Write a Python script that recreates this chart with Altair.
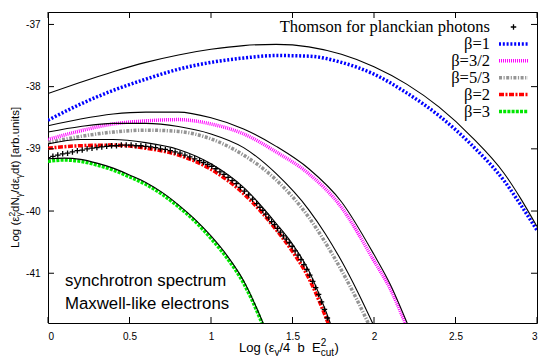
import altair as alt
import pandas as pd

# ---------------- data ----------------
X1 = [0.0, 0.2, 0.4, 0.6, 0.8, 1.0, 1.2, 1.4, 1.6, 1.8, 2.0, 2.2, 2.4, 2.6, 2.8, 2.9, 3.0]
sync_b1 = [-38.11, -37.93, -37.76, -37.61, -37.49, -37.40, -37.34, -37.32, -37.36, -37.48,
           -37.68, -37.96, -38.33, -38.81, -39.40, -39.80, -40.25]
beta_1 = [-38.54, -38.28, -38.06, -37.88, -37.72, -37.61, -37.54, -37.50, -37.51, -37.61,
          -37.80, -38.10, -38.47, -38.94, -39.52, -39.90, -40.31]

X2 = [0.0, 0.2, 0.4, 0.6, 0.8, 1.0, 1.2, 1.4, 1.6, 1.8, 2.0, 2.1, 2.2, 2.25]
sync_b32 = [-38.63, -38.52, -38.44, -38.41, -38.41, -38.50, -38.68, -38.96, -39.32, -39.85,
            -40.70, -41.18, -41.78, -42.10]
beta_32 = [-38.85, -38.71, -38.60, -38.55, -38.53, -38.60, -38.76, -39.05, -39.40, -39.94,
           -40.80, -41.25, -41.85, -42.15]

X3 = [0.0, 0.2, 0.4, 0.6, 0.8, 1.0, 1.2, 1.4, 1.6, 1.7, 1.8, 1.9, 2.0]
sync_b53 = [-38.73, -38.64, -38.59, -38.59, -38.64, -38.76, -38.98, -39.40, -39.98, -40.36,
            -40.80, -41.30, -41.85]
beta_53 = [-38.90, -38.80, -38.73, -38.70, -38.72, -38.84, -39.10, -39.50, -40.10, -40.50,
           -40.95, -41.45, -42.00]

X4 = [0.0, 0.2, 0.4, 0.6, 0.8, 1.0, 1.2, 1.4, 1.5, 1.6, 1.7, 1.8]
sync_b2 = [-38.92, -38.85, -38.85, -38.90, -39.01, -39.24, -39.62, -40.20, -40.53, -40.96,
           -41.58, -42.30]
beta_2 = [-38.99, -38.95, -38.94, -38.99, -39.10, -39.33, -39.72, -40.30, -40.65, -41.08,
          -41.68, -42.40]

X5 = [0.0, 0.1, 0.2, 0.3, 0.4, 0.5, 0.6, 0.7, 0.8, 0.9, 1.0, 1.1, 1.2, 1.3, 1.35]
sync_b3 = [-39.16, -39.15, -39.17, -39.23, -39.31, -39.42, -39.54, -39.70, -39.90, -40.13,
           -40.40, -40.72, -41.12, -41.68, -42.00]
beta_3 = [-39.20, -39.18, -39.20, -39.26, -39.34, -39.45, -39.57, -39.73, -39.93, -40.16,
          -40.44, -40.76, -41.16, -41.72, -42.05]

thomson_x = [0.00, 0.03, 0.06, 0.09, 0.12, 0.15, 0.18, 0.21, 0.24, 0.27, 0.30, 0.33, 0.36,
             0.39, 0.42, 0.45, 0.48, 0.51, 0.54, 0.57, 0.60, 0.63, 0.66, 0.69, 0.72, 0.75,
             0.78, 0.81, 0.84, 0.87, 0.90, 0.93, 0.955, 0.98, 1.005, 1.03, 1.055, 1.08,
             1.105, 1.13, 1.155, 1.18, 1.205, 1.23, 1.255, 1.28, 1.30, 1.318, 1.336, 1.354,
             1.372, 1.39, 1.408, 1.426, 1.444, 1.462, 1.48, 1.498, 1.516, 1.534, 1.552, 1.57,
             1.588, 1.606, 1.624, 1.642, 1.66, 1.678, 1.696, 1.714]
thomson_y = [-39.14, -39.12, -39.10, -39.08, -39.07, -39.05, -39.03, -39.02, -39.00, -38.99,
             -38.98, -38.97, -38.96, -38.95, -38.95, -38.94, -38.94, -38.94, -38.95, -38.95,
             -38.96, -38.97, -38.98, -39.00, -39.01, -39.03, -39.05, -39.07, -39.10, -39.13,
             -39.16, -39.19, -39.22, -39.25, -39.28, -39.32, -39.37, -39.41, -39.46, -39.51,
             -39.56, -39.62, -39.68, -39.74, -39.81, -39.88, -39.94, -39.99, -40.05, -40.11,
             -40.17, -40.22, -40.28, -40.34, -40.40, -40.45, -40.51, -40.57, -40.64, -40.71,
             -40.78, -40.86, -40.94, -41.03, -41.13, -41.23, -41.34, -41.46, -41.58, -41.72]

x_ticks = [0, 0.5, 1, 1.5, 2, 2.5, 3]
y_ticks = [-41, -40, -39, -38, -37]

legend_labels = ["Thomson for planckian photons", "\u03b2=1", "\u03b2=3/2", "\u03b2=5/3",
                 "\u03b2=2", "\u03b2=3"]

# ---------------- layout / style ----------------
W, H = 489, 311
xs = alt.Scale(domain=[0, 3], nice=False, zero=False)
ys = alt.Scale(domain=[-41.8, -36.8], nice=False, zero=False)
SANS = "Liberation Sans"
SERIF = "Liberation Serif"

x_axis = alt.Axis(values=x_ticks, format="~g", ticks=False, domain=False, grid=False,
                  labelFont=SANS, labelFontSize=10, labelColor="black", labelPadding=8,
                  title=None)
y_axis = alt.Axis(values=y_ticks, labelExpr="'-' + format(abs(datum.value), 'd')",
                  ticks=False, domain=False, grid=False, labelFont=SANS, labelFontSize=10,
                  labelColor="black", labelPadding=8, title=None)

styles = {
    "b1": dict(color="#0000ff", strokeWidth=3.5, strokeDash=[2, 1.8]),
    "b32": dict(color="#ff00ff", strokeWidth=3.5, strokeDash=[1, 1]),
    "b53": dict(color="#959595", strokeWidth=3.5, strokeDash=[3, 1.5, 1.2, 1.5]),
    "b2": dict(color="#ff0000", strokeWidth=3.5, strokeDash=[5, 1.5, 2, 1.5]),
    "b3": dict(color="#00e600", strokeWidth=3.5, strokeDash=[3, 1.2]),
}
CROSS = "M-1,0L1,0M0,-1L0,1"


def X(field):
    return alt.X(field, scale=xs, axis=x_axis, title=None)


def Y(field):
    return alt.Y(field, scale=ys, axis=y_axis, title=None)


layers = []


def line(xv, yv, **kw):
    df = pd.DataFrame({"x": xv, "y": yv})
    return alt.Chart(df).mark_line(clip=True, interpolate="monotone", **kw).encode(
        x=X("x:Q"), y=Y("y:Q"))


layers.append(line(X1, beta_1, **styles["b1"]))
layers.append(line(X2, beta_32, **styles["b32"]))
layers.append(line(X3, beta_53, **styles["b53"]))
layers.append(line(X4, beta_2, **styles["b2"]))
layers.append(line(X5, beta_3, **styles["b3"]))
for xv, yv in [(X1, sync_b1), (X2, sync_b32), (X3, sync_b53), (X4, sync_b2), (X5, sync_b3)]:
    layers.append(line(xv, yv, color="black", strokeWidth=1.1))

th = pd.DataFrame({"x": thomson_x, "y": thomson_y})
layers.append(alt.Chart(th).mark_point(shape=CROSS, size=30, color="black", strokeWidth=1.3,
                                       filled=False, opacity=1, clip=True).encode(
    x=X("x:Q"), y=Y("y:Q")))

# inward ticks (gnuplot style) on all four sides
tx = pd.DataFrame({"v": x_ticks})
ty = pd.DataFrame({"v": y_ticks})
for a, b in [(H, H - 6), (0, 6)]:
    layers.append(alt.Chart(tx).mark_rule(color="black", strokeWidth=1).encode(
        x=X("v:Q"), y=alt.value(a), y2=alt.value(b)))
for a, b in [(0, 6), (W, W - 6)]:
    layers.append(alt.Chart(ty).mark_rule(color="black", strokeWidth=1).encode(
        y=Y("v:Q"), x=alt.value(a), x2=alt.value(b)))

one = pd.DataFrame({"a": [0]})

# legend (gnuplot style: right-aligned text, sample at right)
LX_TEXT, LX0, LX1, LY0, LDY = 442, 451, 480, 15, 16.9
for i, lab in enumerate(legend_labels):
    yy = LY0 + LDY * i
    layers.append(alt.Chart(one).mark_text(text=lab, align="right", baseline="middle",
                                           font=SERIF, fontSize=16.5, color="black").encode(
        x=alt.value(LX_TEXT), y=alt.value(yy)))
    if i == 0:
        layers.append(alt.Chart(one).mark_point(shape=CROSS, size=30, color="black",
                                                strokeWidth=1.3, filled=False, opacity=1).encode(
            x=alt.value((LX0 + LX1) / 2), y=alt.value(yy)))
    else:
        key = ["b1", "b32", "b53", "b2", "b3"][i - 1]
        layers.append(alt.Chart(one).mark_rule(**styles[key]).encode(
            x=alt.value(LX0), x2=alt.value(LX1), y=alt.value(yy)))

# annotations
for txt, yy in [("synchrotron spectrum", 268.7), ("Maxwell-like electrons", 292)]:
    layers.append(alt.Chart(one).mark_text(text=txt, align="left", baseline="middle", font=SANS,
                                           fontSize=16.8, color="black").encode(
        x=alt.value(17), y=alt.value(yy)))

# composed axis titles with sub/superscripts
AW = {"L": .556, "o": .556, "g": .556, " ": .278, "\u00a0": .278, "(": .333, ")": .333,
      "\u03b5": .45, "\u03b3": .5, "d": .556, "N": .722, "/": .278, "t": .278, "[": .278,
      "]": .278, "a": .556, "r": .333, "b": .556, ".": .278, "u": .556, "n": .556, "i": .222,
      "s": .5, "4": .556, "E": .667, "2": .556, "c": .5}


def tw(s, fs):
    return sum(AW.get(c, .55) for c in s) * fs


def piece(txt, x, y, fs, angle=None, baseline="alphabetic"):
    kw = dict(text=txt, align="left", baseline=baseline, font=SANS, fontSize=fs, color="black")
    if angle is not None:
        kw["angle"] = angle
    return alt.Chart(one).mark_text(**kw).encode(x=alt.value(x), y=alt.value(y))


# x title: Log (eps_gamma / 4 b E^2_cut)
FMX, FSX = 13, 10
xt_pieces = [("Log (\u03b5", 0, FMX), ("\u03b3", 3.5, FSX),
             ("/4\u00a0 b\u00a0 E", 0, FMX), (("2", "cut"), None, FSX), (")", 0, FMX)]
cx, base = 191, 340
for txt, off, fs in xt_pieces:
    if off is None:
        sup, sub = txt
        layers.append(piece(sup, cx, base - 6, fs))
        layers.append(piece(sub, cx, base + 3.5, fs))
        cx += max(tw(sup, fs), tw(sub, fs)) + 0.5
    else:
        layers.append(piece(txt, cx, base + off, fs))
        cx += tw(txt, fs)

# y title (rotated): Log (eps^2_gamma dN_gamma / d eps_gamma dt) [arb.units]
FMY, FSY = 11.5, 8.5
yt_pieces = [("Log (\u03b5", 0, FMY), (("2", "\u03b3"), None, FSY), ("dN", 0, FMY),
             ("\u03b3", 3, FSY), ("/d\u03b5", 0, FMY), ("\u03b3", 3, FSY),
             ("dt) [arb.units]", 0, FMY)]
cy, xc = 236, -32.5
for txt, off, fs in yt_pieces:
    if off is None:
        sup, sub = txt
        layers.append(piece(sup, xc - 4, cy, fs, angle=270, baseline="middle"))
        layers.append(piece(sub, xc + 3, cy, fs, angle=270, baseline="middle"))
        cy -= max(tw(sup, fs), tw(sub, fs))
    else:
        layers.append(piece(txt, xc + off, cy, fs, angle=270, baseline="middle"))
        cy -= tw(txt, fs)

chart = alt.layer(*layers).properties(
    width=W, height=H, background="white",
    padding={"left": 40, "top": 4, "right": 4, "bottom": 33},
    autosize=alt.AutoSizeParams(type="none"),
).configure_view(stroke="black", strokeWidth=1)

chart.save("out.html", embed_options={"renderer": "svg", "actions": False})
